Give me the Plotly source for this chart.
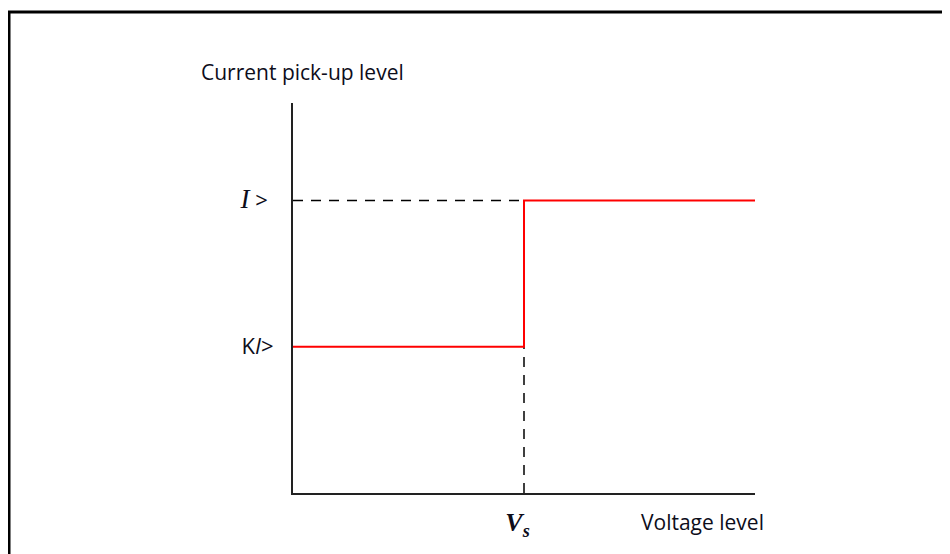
import plotly.graph_objects as go

# Data (normalized levels)
v_setting = 0.5          # Vs
v_max = 1.0
i_high = 0.75            # I>
i_low = 0.375            # KI>

step_x = [0, v_setting, v_setting, v_max]
step_y = [i_low, i_low, i_high, i_high]

dash_h_x = [0, v_setting]
dash_h_y = [i_high, i_high]
dash_v_x = [v_setting, v_setting]
dash_v_y = [0, i_low]

y_tickvals = [i_high, i_low]
y_ticktext = ['<span style="font-family:Liberation Serif;font-size:27px"><i>I</i></span> >&nbsp;',
              'K<i>I</i>>']
x_tickvals = [v_setting]
x_ticktext = ['<span style="font-family:Liberation Serif"><b><i>V<sub>s</sub></i></b>&nbsp;&nbsp;</span>']

FONT = "Open Sans"

# page body has an 8px margin; plot area targets screen px 293..755 x 103..493
L, T = 285, 95
PW, PH = 462, 390

fig = go.Figure()
fig.add_trace(go.Scatter(x=dash_h_x, y=dash_h_y, mode="lines",
                         line=dict(color="black", width=1.5, dash="10px,8px"),
                         hoverinfo="skip", showlegend=False))
fig.add_trace(go.Scatter(x=dash_v_x, y=dash_v_y, mode="lines",
                         line=dict(color="black", width=1.5, dash="10px,8px"),
                         hoverinfo="skip", showlegend=False))
fig.add_trace(go.Scatter(x=step_x, y=step_y, mode="lines",
                         line=dict(color="#ff0000", width=2),
                         hoverinfo="skip", showlegend=False))

def px_x(sx):
    return (sx - 8 - L) / PW

def px_y(sy):
    return (T + PH - (sy - 8)) / PH

fig.update_layout(
    width=950, height=554,
    margin=dict(l=L, r=950 - L - PW, t=T, b=554 - T - PH),
    paper_bgcolor="white", plot_bgcolor="white",
    font=dict(family=FONT, size=20, color="#0d0d1a"),
    xaxis=dict(range=[0, v_max], showgrid=False, zeroline=False,
               showline=True, linecolor="#222222", linewidth=2,
               tickvals=x_tickvals, ticktext=x_ticktext, ticks="",
               ticklabelstandoff=5,
               tickfont=dict(size=26), fixedrange=True),
    yaxis=dict(range=[0, 1], showgrid=False, zeroline=False,
               showline=True, linecolor="#222222", linewidth=2,
               tickvals=y_tickvals, ticktext=y_ticktext, ticks="",
               ticklabelstandoff=13,
               tickfont=dict(size=22), fixedrange=True),
    annotations=[
        dict(text="Current pick-up level", xref="paper", yref="paper",
             x=px_x(199), y=px_y(72), xanchor="left", yanchor="middle",
             showarrow=False, font=dict(size=21)),
        dict(text="Voltage level", xref="paper", yref="paper",
             x=px_x(766), y=px_y(522), xanchor="right", yanchor="middle",
             showarrow=False, font=dict(size=21)),
    ],
    shapes=[
        dict(type="line", xref="paper", yref="paper",
             x0=px_x(8), x1=px_x(960), y0=px_y(12), y1=px_y(12),
             line=dict(color="black", width=3)),
        dict(type="line", xref="paper", yref="paper",
             x0=px_x(9), x1=px_x(9), y0=px_y(12), y1=px_y(570),
             line=dict(color="black", width=3)),
    ],
)

fig.write_html("out.html")
